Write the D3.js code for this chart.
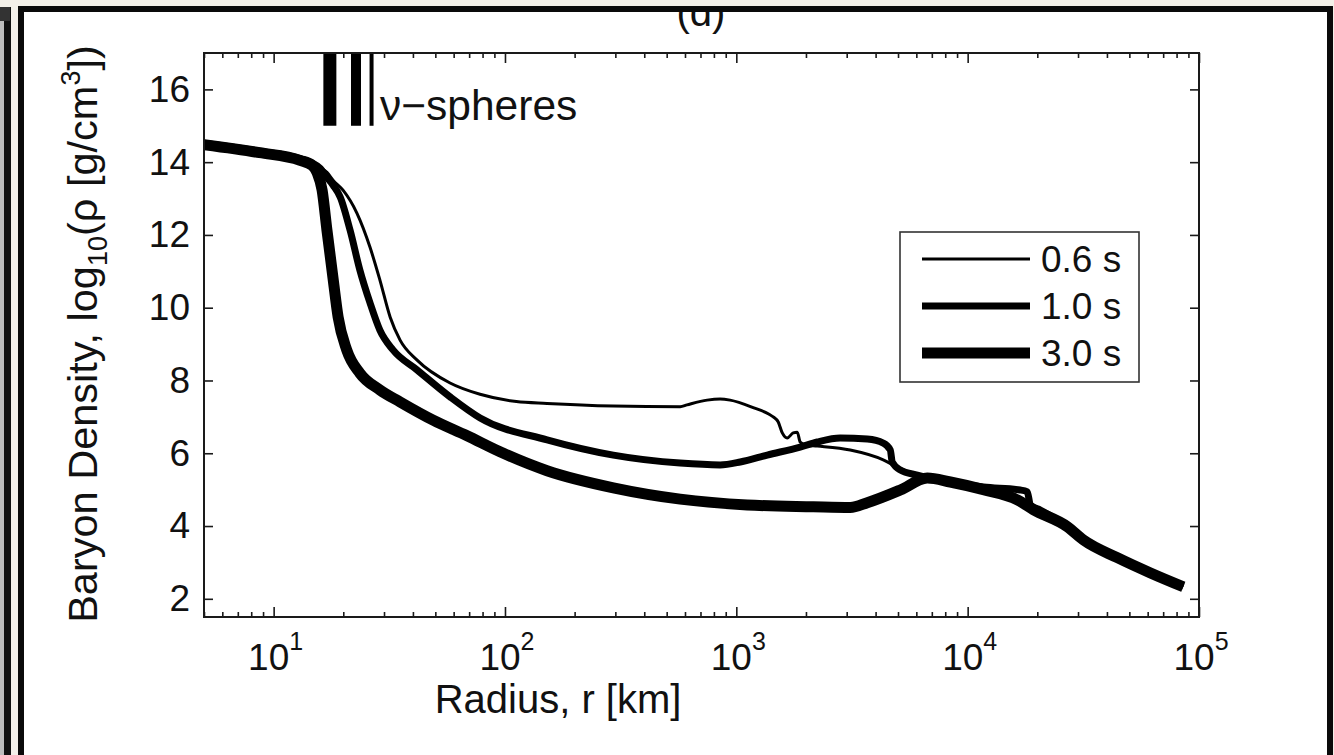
<!DOCTYPE html>
<html>
<head>
<meta charset="utf-8">
<script src="https://cdn.jsdelivr.net/npm/d3@7"></script>
<style>
  html, body { margin: 0; padding: 0; background: #f3f0e9; }
  svg { display: block; }
  text { font-family: "Liberation Sans", Arial, Helvetica, sans-serif; fill: #111; }
</style>
</head>
<body>
<svg id="chart" width="1334" height="755"></svg>
<script>
// ---------------- data ----------------
const seriesNames = ["0.6 s", "1.0 s", "3.0 s"];

const radius06 = [5, 8.7, 13, 14.7, 15.9, 17.0, 18.1, 19.95, 22.9, 26.1, 28.8, 31.9, 35.2, 41.7, 57.9, 78, 112, 152, 294, 572, 612, 748, 851, 940, 1200, 1380, 1444, 1518, 1580, 1660, 1762, 1834, 1888, 1986, 2240, 3108, 4316, 4963, 6060, 8414, 11700, 16870, 18100, 18660, 20600, 26980, 31620, 44360, 61700, 85500];
const density06 = [14.55, 14.32, 14.12, 13.98, 13.86, 13.72, 13.50, 13.23, 12.60, 11.66, 10.76, 9.74, 9.11, 8.56, 7.93, 7.62, 7.42, 7.37, 7.30, 7.28, 7.33, 7.46, 7.49, 7.46, 7.24, 7.08, 7.0, 6.86, 6.56, 6.42, 6.56, 6.58, 6.31, 6.23, 6.20, 6.09, 5.82, 5.62, 5.40, 5.21, 5.07, 4.99, 4.94, 4.58, 4.44, 3.98, 3.62, 3.13, 2.71, 2.33];

const radius10 = [5, 8.7, 13, 14.7, 15.9, 16.7, 18.1, 19.4, 21.4, 23.6, 26.1, 28.8, 32.8, 41.7, 57.9, 78.1, 152, 294, 572, 851, 1040, 1360, 1888, 2240, 2812, 3684, 4316, 4630, 4720, 5117, 6060, 8414, 11700, 16870, 18100, 18660, 20600, 26980, 31620, 44360, 61700, 85500];
const density10 = [14.52, 14.30, 14.10, 13.97, 13.83, 13.64, 13.36, 13.04, 12.13, 11.03, 10.13, 9.38, 8.84, 8.29, 7.55, 6.97, 6.37, 5.95, 5.73, 5.68, 5.76, 5.95, 6.17, 6.31, 6.42, 6.39, 6.28, 6.09, 5.76, 5.54, 5.40, 5.21, 5.07, 4.99, 4.94, 4.58, 4.44, 3.98, 3.62, 3.13, 2.71, 2.33];

const radius30 = [5, 8.7, 13, 14.7, 15.4, 16.2, 17.0, 18.1, 19.0, 20.7, 23.6, 28.8, 35.2, 48.9, 68.6, 95.2, 152, 294, 572, 1114, 2151, 3108, 3681, 5117, 6691, 8414, 11700, 16400, 19240, 26980, 31620, 44360, 61700, 85500];
const density30 = [14.48, 14.26, 14.05, 13.91, 13.72, 13.23, 12.13, 10.76, 9.74, 8.84, 8.2, 7.74, 7.41, 6.91, 6.48, 6.04, 5.52, 5.05, 4.74, 4.58, 4.53, 4.51, 4.64, 4.99, 5.32, 5.21, 5.0, 4.72, 4.45, 3.98, 3.62, 3.13, 2.71, 2.33];

// neutrinosphere radii (km) for 0.6 s, 1.0 s, 3.0 s
const nuSphereRadius = [26.5, 22.7, 17.5];
const nuSphereRange = [15, 17];

const yTicks = [2, 4, 6, 8, 10, 12, 14, 16];
const xMajorTicks = [10, 100, 1000, 10000, 100000];
const xTickExponents = ["1", "2", "3", "4", "5"];

// ---------------- layout / style ----------------
const L = 204, R = 1199, T = 53, B = 617;
const widths = [3, 7, 11];
const barWidths = [4, 10, 13];
const FONT = '"Liberation Sans", Arial, Helvetica, sans-serif';

const svg = d3.select("#chart");

// background & frame
svg.append("rect").attr("x", 0).attr("y", 0).attr("width", 1334).attr("height", 755).attr("fill", "#f3f0e9");
svg.append("rect").attr("x", 0).attr("y", 7).attr("width", 4).attr("height", 748).attr("fill", "#bdbdbd");
svg.append("rect").attr("x", 4).attr("y", 7).attr("width", 7).attr("height", 748).attr("fill", "#111");
svg.append("rect").attr("x", 0).attr("y", 7).attr("width", 10).attr("height", 14).attr("fill", "#333");
svg.append("rect").attr("x", 21).attr("y", 9).attr("width", 1309).attr("height", 760)
   .attr("fill", "#ffffff").attr("stroke", "#0a0a0a").attr("stroke-width", 6);

const defs = svg.append("defs");
defs.append("clipPath").attr("id", "frameClip").append("rect")
   .attr("x", 24).attr("y", 12).attr("width", 1303).attr("height", 743);
defs.append("clipPath").attr("id", "plotClip").append("rect")
   .attr("x", L).attr("y", T).attr("width", R - L).attr("height", B - T);

// panel title, cut by the frame as in the original
svg.append("text").attr("clip-path", "url(#frameClip)")
   .attr("x", 701).attr("y", 26).attr("text-anchor", "middle")
   .attr("font-size", 40).text("(d)");

// scales
const x = d3.scaleLog().domain([5, 1e5]).range([L, R]);
const y = d3.scaleLinear().domain([1.5, 17]).range([B, T]);

const xMinor = [];
for (let e = 0; e <= 4; e++) for (let m = 2; m <= 9; m++) {
  const v = m * Math.pow(10, e);
  if (v >= 5 && v < 1e5) xMinor.push(v);
}

const axisColor = "#1a1a1a";
function styleAxis(g) {
  g.select(".domain").remove();
  g.selectAll(".tick line").attr("stroke", axisColor).attr("stroke-width", 1.6);
  g.selectAll(".tick text").attr("font-family", FONT).attr("fill", "#111");
}

svg.append("g").attr("transform", `translate(0,${B})`)
   .call(d3.axisBottom(x).tickValues(xMajorTicks).tickSize(-10).tickSizeOuter(0).tickFormat(""))
   .call(styleAxis);
svg.append("g").attr("transform", `translate(0,${B})`)
   .call(d3.axisBottom(x).tickValues(xMinor).tickSize(-5).tickSizeOuter(0).tickFormat(""))
   .call(styleAxis);
svg.append("g").attr("transform", `translate(0,${T})`)
   .call(d3.axisTop(x).tickValues(xMajorTicks).tickSize(-10).tickSizeOuter(0).tickFormat(""))
   .call(styleAxis);
svg.append("g").attr("transform", `translate(0,${T})`)
   .call(d3.axisTop(x).tickValues(xMinor).tickSize(-5).tickSizeOuter(0).tickFormat(""))
   .call(styleAxis);
svg.append("g").attr("transform", `translate(${L},0)`)
   .call(d3.axisLeft(y).tickValues(yTicks).tickSize(-9).tickSizeOuter(0).tickPadding(14).tickFormat(d3.format("d")))
   .call(styleAxis)
   .call(g => g.selectAll(".tick text").attr("font-size", 37));
svg.append("g").attr("transform", `translate(${R},0)`)
   .call(d3.axisRight(y).tickValues(yTicks).tickSize(-9).tickSizeOuter(0).tickFormat(""))
   .call(styleAxis);

// x tick labels with superscripts
const xl = svg.append("g");
xMajorTicks.forEach((v, i) => {
  const t = xl.append("text").attr("x", x(v) + 2).attr("y", 670)
     .attr("text-anchor", "middle").attr("font-size", 37);
  t.append("tspan").text("10");
  t.append("tspan").attr("dy", -20).attr("font-size", 25).text(xTickExponents[i]);
});

// axis labels
svg.append("text").attr("x", 558).attr("y", 713).attr("text-anchor", "middle")
   .attr("font-size", 40).text("Radius, r [km]");

const yl = svg.append("text").attr("transform", "translate(97,334) rotate(-90)")
   .attr("text-anchor", "middle").attr("font-size", 41.5);
yl.append("tspan").text("Baryon Density, log");
yl.append("tspan").attr("dy", 10).attr("font-size", 27).text("10");
yl.append("tspan").attr("dy", -10).text("(\u03C1 [g/cm");
yl.append("tspan").attr("dy", -17).attr("font-size", 27).text("3");
yl.append("tspan").attr("dy", 17).text("])");

// curves
const series = [
  { name: seriesNames[0], r: radius06, d: density06, w: widths[0] },
  { name: seriesNames[1], r: radius10, d: density10, w: widths[1] },
  { name: seriesNames[2], r: radius30, d: density30, w: widths[2] }
];
const line = d3.line().x(p => x(p[0])).y(p => y(p[1])).curve(d3.curveMonotoneX);
const plot = svg.append("g").attr("clip-path", "url(#plotClip)");
series.forEach(s => {
  plot.append("path").datum(s.r.map((r, i) => [r, s.d[i]]))
    .attr("d", line).attr("fill", "none").attr("stroke", "#000")
    .attr("stroke-width", s.w).attr("stroke-linejoin", "round").attr("stroke-linecap", "butt");
});

// neutrinosphere bars
nuSphereRadius.forEach((r, i) => {
  plot.append("line").attr("x1", x(r)).attr("x2", x(r))
    .attr("y1", y(nuSphereRange[0])).attr("y2", y(nuSphereRange[1]))
    .attr("stroke", "#000").attr("stroke-width", barWidths[i]);
});
svg.append("text").attr("x", 380).attr("y", 120).attr("font-size", 42.5).text("\u03BD\u2212spheres");

// axes box
svg.append("rect").attr("x", L).attr("y", T).attr("width", R - L).attr("height", B - T)
   .attr("fill", "none").attr("stroke", axisColor).attr("stroke-width", 2);

// legend
const lg = svg.append("g");
lg.append("rect").attr("x", 900).attr("y", 232).attr("width", 239).attr("height", 150)
  .attr("fill", "#fff").attr("stroke", "#333").attr("stroke-width", 1.6);
series.forEach((s, i) => {
  const ly = 259 + i * 47;
  lg.append("line").attr("x1", 922).attr("x2", 1030).attr("y1", ly).attr("y2", ly)
    .attr("stroke", "#000").attr("stroke-width", s.w);
  lg.append("text").attr("x", 1041).attr("y", ly + 13).attr("font-size", 37).text(s.name);
});
</script>
</body>
</html>
